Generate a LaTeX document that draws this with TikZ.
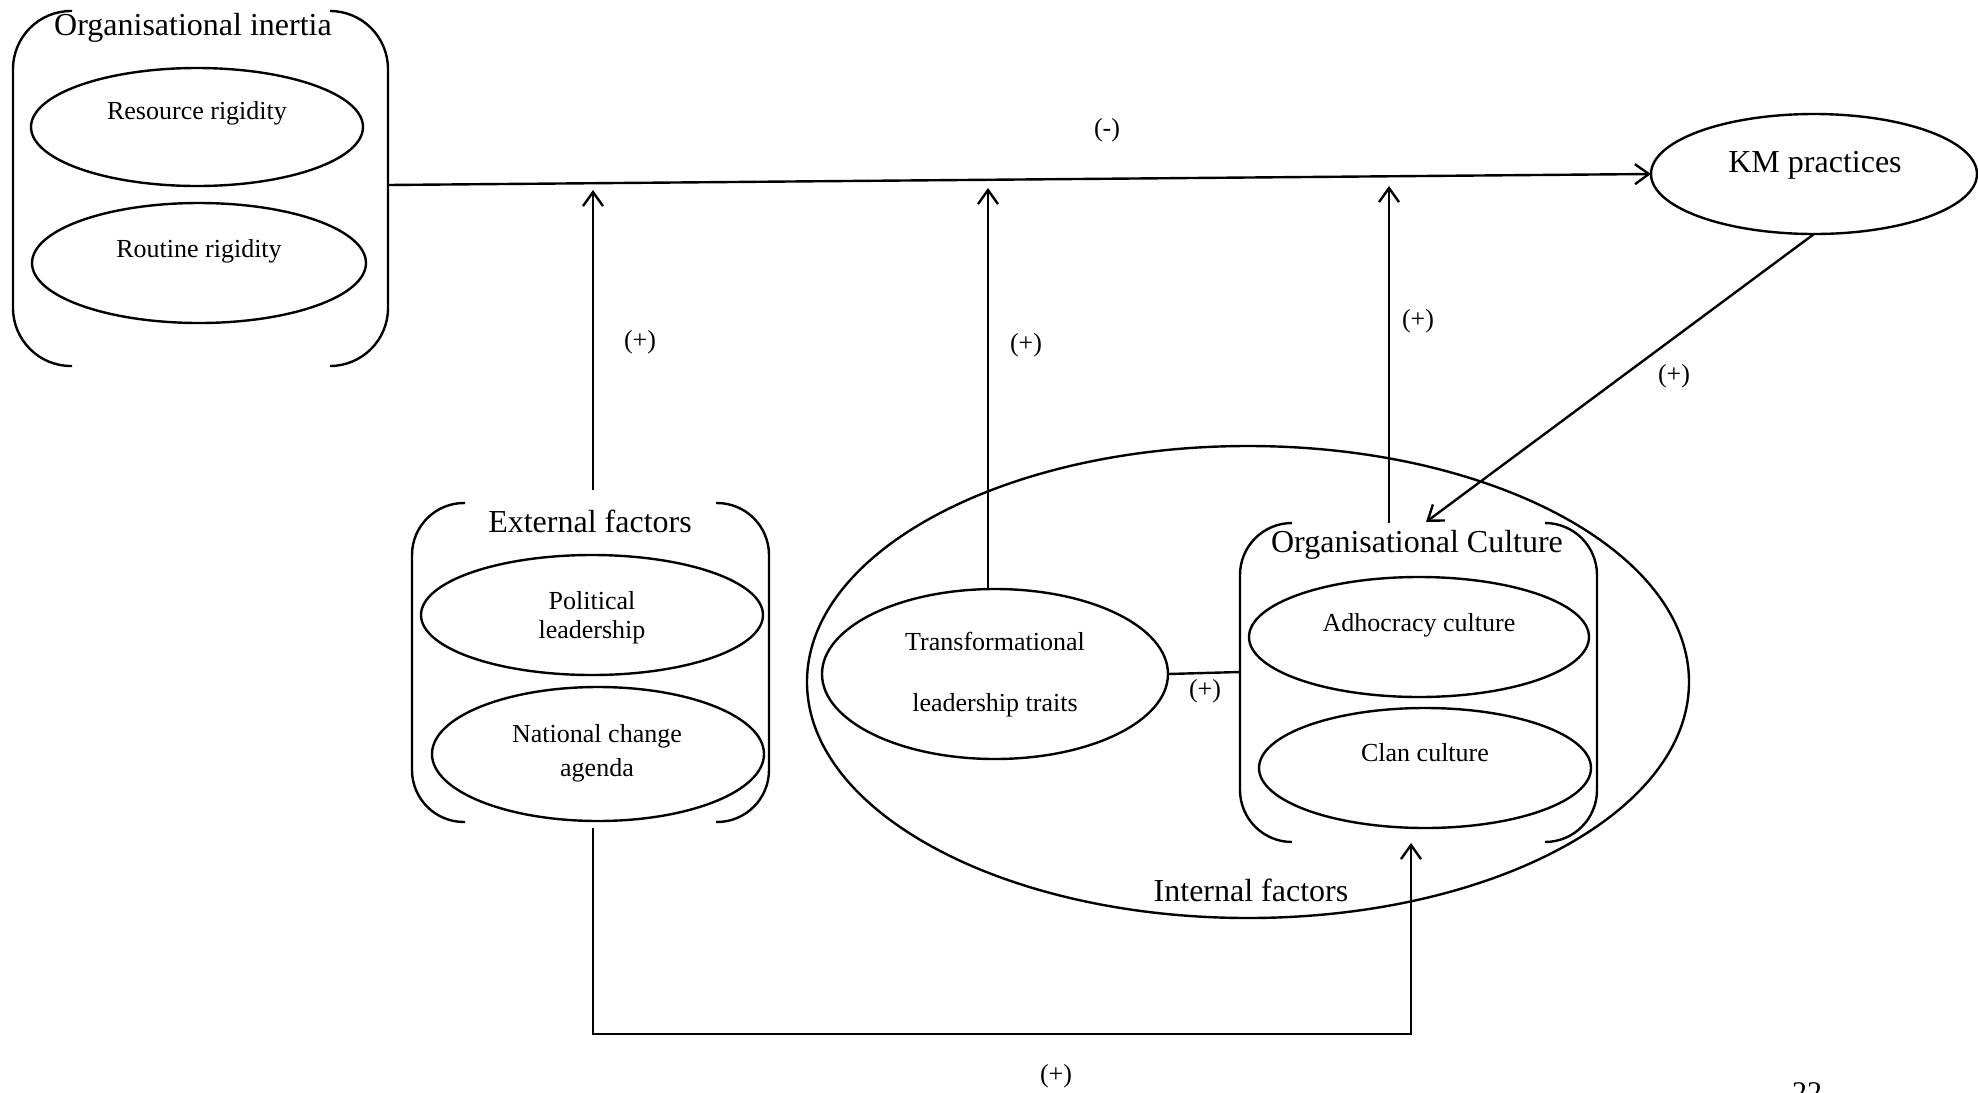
\documentclass[tikz,border=0pt]{standalone}
\usepackage{fontspec}
\setmainfont{Liberation Serif}
\usetikzlibrary{arrows.meta,shapes.geometric}
\begin{document}
\begin{tikzpicture}[x=0.5pt,y=-0.5pt,
  oval/.style={draw,ellipse,line width=1.2pt,inner sep=0pt,outer sep=0pt},
  big/.style={inner sep=0pt,anchor=base,font=\fontsize{16}{19}\selectfont},
  small/.style={inner sep=0pt,anchor=base,font=\fontsize{13}{16}\selectfont},
  conn/.style={line width=1.2pt},
  arr/.style={conn,-{Straight Barb[length=7pt,width=10pt]}},
  brk/.style={line width=1.2pt}
]
\clip (0,0) rectangle (1978,1093);
\fill[white] (0,0) rectangle (1978,1093);

% ---------- Organisational inertia ----------
\draw[brk,rounded corners=29pt] (72,11) -- (13,11) -- (13,366) -- (72,366);
\draw[brk,rounded corners=29pt] (330,11) -- (388,11) -- (388,366) -- (330,366);
\node[big] (inertiaT) at (193,35) {Organisational inertia};
\node[oval,minimum width=166pt,minimum height=59pt] (res) at (197,127) {};
\node[small] (resT) at (197,119) {Resource rigidity};
\node[oval,minimum width=167pt,minimum height=60pt] (rout) at (199,263) {};
\node[small] (routT) at (199,257) {Routine rigidity};

% ---------- KM practices ----------
\node[oval,minimum width=163pt,minimum height=60pt] (km) at (1814,174) {};
\node[big] (kmT) at (1815,172) {KM practices};

% ---------- External factors ----------
\draw[brk,rounded corners=26pt] (465,503) -- (412,503) -- (412,822) -- (465,822);
\draw[brk,rounded corners=26pt] (716,503) -- (769,503) -- (769,822) -- (716,822);
\node[big] (extT) at (590,532) {External factors};
\node[oval,minimum width=171pt,minimum height=60pt] (pol) at (592,615) {};
\node[small] (polT1) at (592,609) {Political};
\node[small] (polT2) at (592,638) {leadership};
\node[oval,minimum width=166pt,minimum height=67pt] (nat) at (598,754) {};
\node[small] (natT1) at (597,742) {National change};
\node[small] (natT2) at (597,776) {agenda};

% ---------- Internal factors ----------
\node[oval,minimum width=441pt,minimum height=236pt] (int) at (1248,682) {};
\node[big] (intT) at (1251,901) {Internal factors};
\node[oval,minimum width=173pt,minimum height=85pt] (trans) at (995,674) {};
\node[small] (transT1) at (995,650) {Transformational};
\node[small] (transT2) at (995,711) {leadership traits};

% ---------- Organisational Culture ----------
\draw[brk,rounded corners=26pt] (1292,523) -- (1240,523) -- (1240,842) -- (1292,842);
\draw[brk,rounded corners=26pt] (1545,523) -- (1597,523) -- (1597,842) -- (1545,842);
\node[big] (ocT) at (1417,552) {Organisational Culture};
\node[oval,minimum width=170pt,minimum height=60pt] (adh) at (1419,637) {};
\node[small] (adhT) at (1419,631) {Adhocracy culture};
\node[oval,minimum width=166pt,minimum height=60pt] (clan) at (1425,768) {};
\node[small] (clanT) at (1425,761) {Clan culture};

% ---------- connector end points ----------
\coordinate (inR) at (388,185);
\coordinate (extTop) at (593,490);
\coordinate (tipA) at (593,190);
\coordinate (tipB) at (988,188);
\coordinate (ocTop) at (1389,523);
\coordinate (tipC) at (1389,186);
\coordinate (ocArr) at (1426,522);
\coordinate (ocL) at (1240,672);
\coordinate (extBot) at (593,828);
\coordinate (bl) at (593,1034);
\coordinate (br) at (1411,1034);
\coordinate (ocBot) at (1411,843);

% ---------- connectors ----------
\draw[arr] (inR) -- (km.west);
\draw[arr] (extTop) -- (tipA);
\draw[arr] (tipB |- trans.north) -- (tipB);
\draw[arr] (ocTop) -- (tipC);
\draw[arr] (km.south) -- (ocArr);
\draw[conn] (trans.east) -- (ocL);
\draw[arr] (extBot) -- (bl) -- (br) -- (ocBot);

% ---------- labels ----------
\node[small] (lm) at (1107,136) {(-)};
\node[small] (l1) at (640,348) {(+)};
\node[small] (l2) at (1026,351) {(+)};
\node[small] (l3) at (1418,327) {(+)};
\node[small] (l4) at (1674,382) {(+)};
\node[small] (l5) at (1205,697) {(+)};
\node[small] (l6) at (1056,1082) {(+)};
\node[inner sep=0pt,anchor=base,font=\fontsize{15}{18}\selectfont] (pg) at (1807,1102) {22};
\end{tikzpicture}
\end{document}
